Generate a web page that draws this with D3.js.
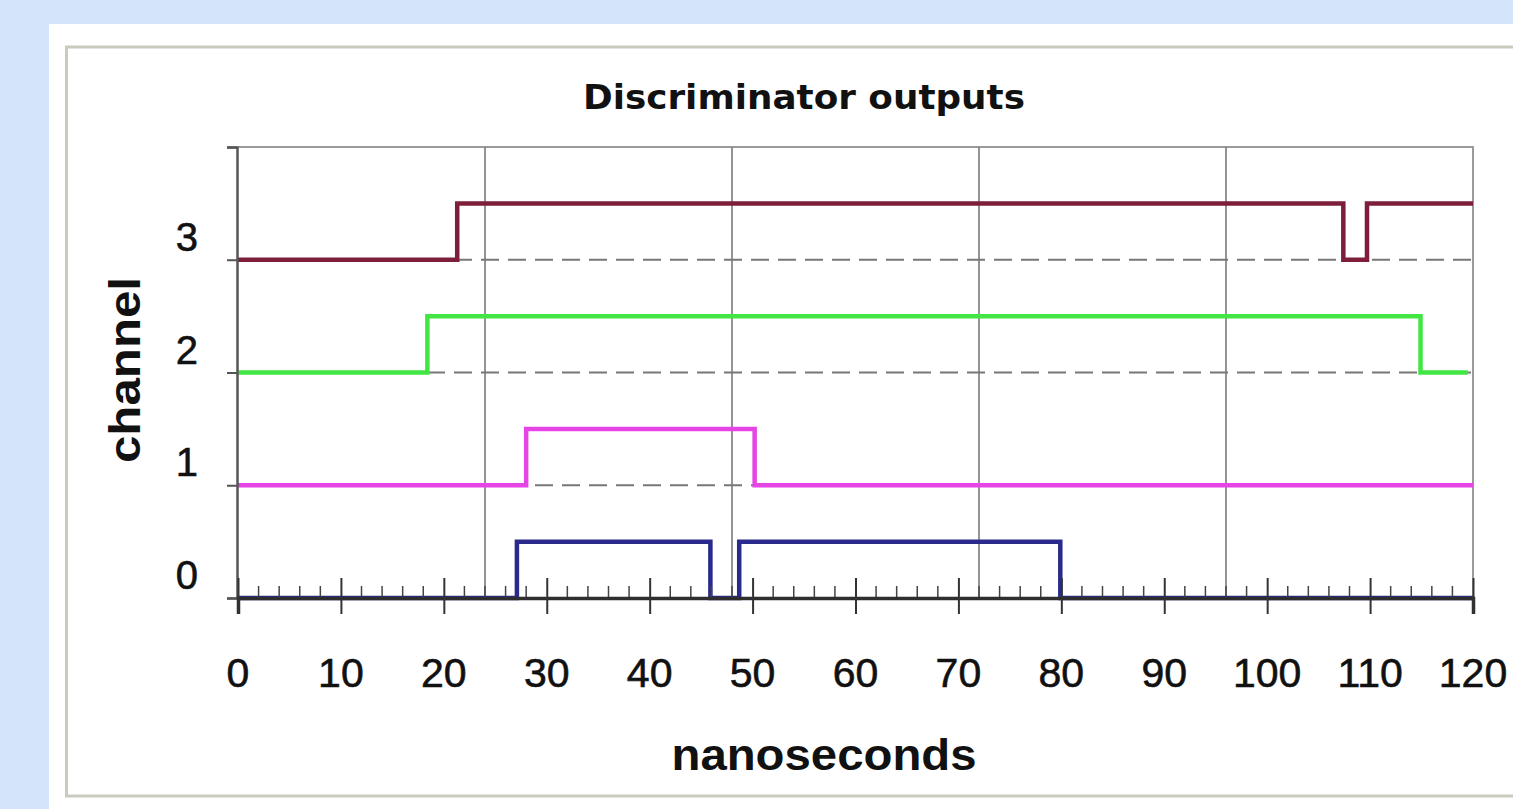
<!DOCTYPE html>
<html>
<head>
<meta charset="utf-8">
<script src="https://cdn.jsdelivr.net/npm/d3@7"></script>
<style>
  html, body { margin: 0; padding: 0; background: #d3e4fb; }
  svg { display: block; }
</style>
</head>
<body>
<svg id="chart" width="1513" height="809"></svg>
<script>
// Discriminator output traces: each channel toggles between low (channel) and high (channel + 0.5)
const channelTicks = [0, 1, 2, 3, 4];
const channelLabels = ["0", "1", "2", "3"];
const timeTicks = [0, 10, 20, 30, 40, 50, 60, 70, 80, 90, 100, 110, 120];
const gridTimes = [24, 48, 72, 96];

// transition times (ns) and logic state after each time
const ch0Times  = [0, 27.1, 45.9, 48.7, 79.9, 120];
const ch0States = [0, 1, 0, 1, 0, 0];
const ch1Times  = [0, 28.0, 50.2, 120];
const ch1States = [0, 1, 0, 0];
const ch2Times  = [0, 18.4, 114.9, 119.5];
const ch2States = [0, 1, 0, 0];
const ch3Times  = [0, 21.3, 107.4, 109.7, 120];
const ch3States = [0, 1, 0, 1, 1];

const traces = [
  { ch: 0, times: ch0Times, states: ch0States, color: "#2a2a8c" },
  { ch: 1, times: ch1Times, states: ch1States, color: "#e545e5" },
  { ch: 2, times: ch2Times, states: ch2States, color: "#42e642" },
  { ch: 3, times: ch3Times, states: ch3States, color: "#7e1e3a" }
];

const svg = d3.select("#chart");

// white page area and chart frame
svg.append("rect").attr("x", 49).attr("y", 24).attr("width", 1470).attr("height", 790).attr("fill", "#ffffff");
svg.append("rect").attr("x", 66.5).attr("y", 47).attr("width", 1460).attr("height", 749)
  .attr("fill", "none").attr("stroke", "#c9ccbd").attr("stroke-width", 3);

const x = d3.scaleLinear().domain([0, 120]).range([238, 1473]);
const y = d3.scaleLinear().domain([0, 4]).range([598, 147]);

// plot frame (top and right)
svg.append("path")
  .attr("d", `M${x(0)},${y(4)}H${x(120)}V${y(0)}`)
  .attr("fill", "none").attr("stroke", "#9a9a9a").attr("stroke-width", 2);

// vertical gridlines
svg.append("g").selectAll("line").data(gridTimes).join("line")
  .attr("x1", d => x(d)).attr("x2", d => x(d))
  .attr("y1", y(4)).attr("y2", y(0))
  .attr("stroke", "#808080").attr("stroke-width", 1.7);

// dashed baselines for channels 1..3
svg.append("g").selectAll("line").data([1, 2, 3]).join("line")
  .attr("x1", x(0)).attr("x2", x(120))
  .attr("y1", d => y(d)).attr("y2", d => y(d))
  .attr("stroke", "#777").attr("stroke-width", 2)
  .attr("stroke-dasharray", "18,9");

// traces
const line = d3.line()
  .x(d => x(d.t))
  .y(d => y(d.v))
  .curve(d3.curveStepAfter);

svg.append("g").selectAll("path").data(traces).join("path")
  .attr("d", tr => line(tr.times.map((t, i) => ({ t, v: tr.ch + 0.5 * tr.states[i] }))))
  .attr("fill", "none")
  .attr("stroke", tr => tr.color)
  .attr("stroke-width", 4.5)
  .attr("stroke-linejoin", "miter");

// y axis
const yAxis = d3.axisLeft(y).tickValues(channelTicks).tickSize(10).tickFormat("");
const gy = svg.append("g").attr("transform", `translate(${x(0) - 1},0)`).call(yAxis);
gy.select(".domain").attr("stroke", "#555").attr("stroke-width", 2.5);
gy.selectAll(".tick line").attr("stroke", "#555").attr("stroke-width", 2);

svg.append("g").selectAll("text").data(channelLabels).join("text")
  .attr("x", 198).attr("y", d => y(+d) - 9)
  .attr("text-anchor", "end")
  .attr("font-family", "Liberation Sans, Arial, sans-serif")
  .attr("font-size", 40).attr("fill", "#111")
  .attr("stroke", "#111").attr("stroke-width", 0.6)
  .text(d => d);

// x axis on top of the channel 0 trace: minor ticks every 2 ns, labelled major ticks every 10 ns
const minor = d3.range(0, 121, 2).filter(d => d % 10 !== 0);
svg.append("g").selectAll("line").data(minor).join("line")
  .attr("x1", d => x(d)).attr("x2", d => x(d))
  .attr("y1", y(0) - 12).attr("y2", y(0) + 2)
  .attr("stroke", "#444").attr("stroke-width", 1.5);

const xAxis = d3.axisBottom(x).tickValues(timeTicks).tickSize(16).tickFormat("");
const gx = svg.append("g").attr("transform", `translate(0,${y(0)})`).call(xAxis);
gx.select(".domain").attr("stroke", "#2e2e2e").attr("stroke-width", 3.5);
gx.selectAll(".tick line").attr("y1", -20).attr("stroke", "#333").attr("stroke-width", 2);

svg.append("g").selectAll("text").data(timeTicks).join("text")
  .attr("x", d => x(d)).attr("y", 687)
  .attr("text-anchor", "middle")
  .attr("font-family", "Liberation Sans, Arial, sans-serif")
  .attr("font-size", 41).attr("fill", "#111")
  .attr("stroke", "#111").attr("stroke-width", 0.6)
  .text(d => d);

// titles
svg.append("text")
  .attr("x", 804).attr("y", 109)
  .attr("text-anchor", "middle")
  .attr("font-family", "DejaVu Sans, Verdana, sans-serif")
  .attr("font-weight", "bold").attr("font-size", 33).attr("fill", "#111")
  .attr("textLength", 442).attr("lengthAdjust", "spacingAndGlyphs")
  .text("Discriminator outputs");

svg.append("text")
  .attr("x", 824).attr("y", 770)
  .attr("text-anchor", "middle")
  .attr("font-family", "Liberation Sans, Arial, sans-serif")
  .attr("font-weight", "bold").attr("font-size", 45).attr("fill", "#111")
  .attr("textLength", 305).attr("lengthAdjust", "spacingAndGlyphs")
  .text("nanoseconds");

svg.append("text")
  .attr("transform", "translate(140,370) rotate(-90)")
  .attr("text-anchor", "middle")
  .attr("font-family", "Liberation Sans, Arial, sans-serif")
  .attr("font-weight", "bold").attr("font-size", 45).attr("fill", "#111")
  .attr("textLength", 186).attr("lengthAdjust", "spacingAndGlyphs")
  .text("channel");
</script>
</body>
</html>
